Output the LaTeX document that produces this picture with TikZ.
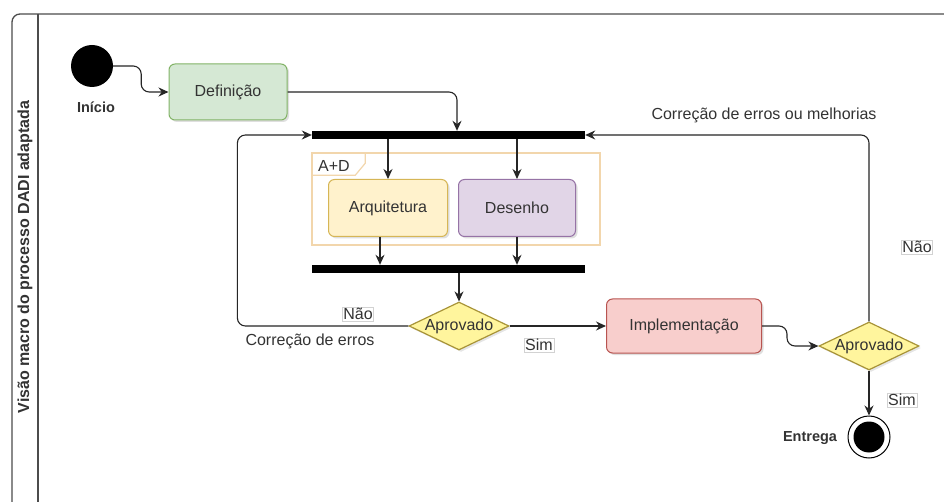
\documentclass[tikz,border=0pt]{standalone}
\usepackage{fontspec}
\setmainfont{Liberation Sans}
\usetikzlibrary{arrows.meta,shapes.geometric,shadows}
\definecolor{greenF}{HTML}{D5E8D4}\definecolor{greenD}{HTML}{82B366}
\definecolor{yelF}{HTML}{FFF2CC}\definecolor{yelD}{HTML}{D6B656}
\definecolor{purF}{HTML}{E1D5E7}\definecolor{purD}{HTML}{9673A6}
\definecolor{redF}{HTML}{F8CECC}\definecolor{redD}{HTML}{B85450}
\definecolor{diaF}{HTML}{FFF59D}\definecolor{diaD}{HTML}{A89438}
\definecolor{adD}{HTML}{F2D6AC}
\definecolor{txt}{HTML}{333333}
\tikzset{
  box/.style={rectangle, rounded corners=6pt, line width=1pt, text=txt,
    drop shadow={opacity=0.25, shadow xshift=2pt, shadow yshift=-2pt}},
  dia/.style={diamond, fill=diaF, draw=diaD, line width=1.2pt, inner sep=0pt,
    minimum width=100, minimum height=48,
    drop shadow={opacity=0.2, shadow xshift=2pt, shadow yshift=-2pt}},
  bar/.style={rectangle, fill=black, inner sep=0pt},
  conn/.style={line width=1.1pt, black!85, rounded corners=8pt,
    -{Stealth[length=10pt,width=9pt]}},
  plain/.style={text=txt},
  lbl/.style={text=txt, draw=gray!35, fill=white, inner sep=1pt},
  boldlbl/.style={text=txt, font=\fontsize{14.5}{17}\selectfont\bfseries},
  frame/.style={line width=1.3pt, black!70}
}
\begin{document}
\begin{tikzpicture}[x=1pt,y=-1pt, font=\fontsize{16}{19}\selectfont]
\useasboundingbox[fill=white] (0,0) rectangle (944,502);
% pool frame
\draw[frame, rounded corners=8pt] (12,502) -- (12,14) -- (944,14);
\draw[frame] (38,14) -- (38,502);
\node[rotate=90, font=\fontsize{16}{19}\selectfont\bfseries, text=txt] (title) at (25,257) {Visão macro do processo DADI adaptada};

% container A+D
\node[draw=adD, line width=1.5pt, minimum width=288, minimum height=92, inner sep=0pt] (ad) at (456,199) {};
\draw[adD, line width=1.2pt] (ad.north west) ++(0,23) -- ++(44,0) -- ++(10,-12) -- ++(0,-11);
\node[plain] (adl) at (334,166) {A+D};

% nodes
\node[circle, fill=black, minimum size=42, inner sep=0pt] (start) at (92,66) {};
\node[boldlbl] (ini) at (96,107) {Início};
\node[box, fill=greenF, draw=greenD, minimum width=118, minimum height=56] (def) at (228,92) {Definição};
\node[bar, minimum width=273, minimum height=8] (bar1) at (448.5,135) {};
\node[box, fill=yelF, draw=yelD, minimum width=119, minimum height=57] (arq) at (388,208) {Arquitetura};
\node[box, fill=purF, draw=purD, minimum width=117, minimum height=57] (des) at (517,208) {Desenho};
\node[bar, minimum width=273, minimum height=8] (bar2) at (448.5,269) {};
\node[dia] (ap1) at (459,326) {};
\node[plain] (ap1t) at (ap1) {Aprovado};
\node[box, fill=redF, draw=redD, minimum width=155, minimum height=54] (impl) at (684,326) {Implementação};
\node[dia] (ap2) at (869,346) {};
\node[plain] (ap2t) at (ap2) {Aprovado};
\node[circle, draw=black, line width=1pt, fill=white, minimum size=42, inner sep=0pt] (end) at (869,437) {};
\node[circle, fill=black, minimum size=31, inner sep=0pt] (endin) at (end) {};
\node[boldlbl] (ent) at (810,438) {Entrega};

% connectors
\draw[conn] (start.east) -- ++(28,0) |- (def.west);
\draw[conn] (def.east) -| ([xshift=8.5pt]bar1.north);
\draw[conn] (bar1.south -| arq.north) -- (arq.north);
\draw[conn] (bar1.south -| des.north) -- (des.north);
\draw[conn] ([xshift=-8pt]arq.south) -- ([xshift=-8pt]bar2.north -| arq.south);
\draw[conn] (des.south) -- (bar2.north -| des.south);
\draw[conn] (bar2.south -| ap1.north) -- (ap1.north);
\draw[conn] (ap1.west) -- ++(-171,0) |- (bar1.west);
\draw[conn] (ap1.east) -- (impl.west);
\draw[conn] (impl.east) -- ++(25,0) |- (ap2.west);
\draw[conn] (ap2.north) |- (bar1.east);
\draw[conn] (ap2.south) -- (end.north);

% labels
\node[lbl] (n1) at (358,314) {Não};
\node[plain] (c1) at (310,341) {Correção de erros};
\node[lbl] (s1) at (539,345) {Sim};
\node[plain] (c2) at (764,115) {Correção de erros ou melhorias};
\node[lbl] (n2) at (917,247) {Não};
\node[lbl] (s2) at (902,400) {Sim};
\end{tikzpicture}
\end{document}
